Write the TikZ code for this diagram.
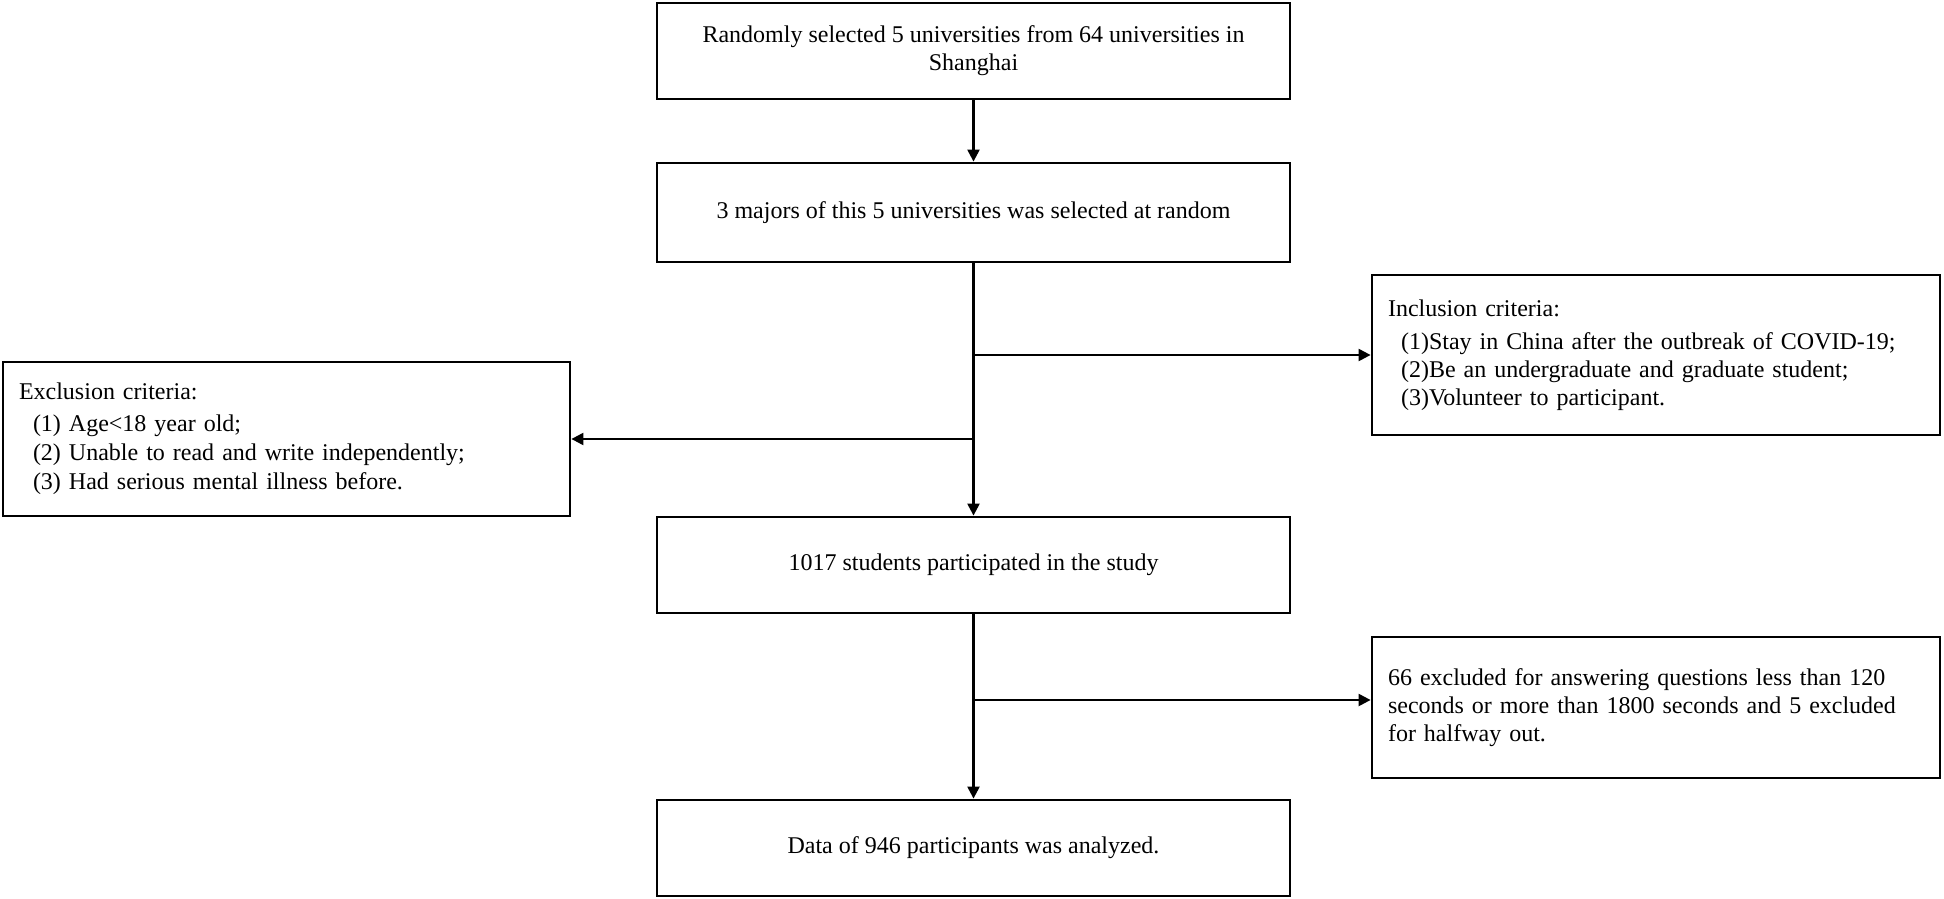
\documentclass[tikz,border=0pt]{standalone}
\usepackage{fontspec}
\setmainfont{Liberation Serif}
\usepackage{tikz}
\usetikzlibrary{positioning,arrows.meta}

\newcommand\flowfont{\fontsize{12pt}{14pt}\selectfont}
\tikzset{
  flowbox/.style={draw,line width=1.4pt,inner sep=8pt,font=\flowfont},
  mainbox/.style={flowbox,minimum width=316.5pt,align=center},
  sidebox/.style={flowbox,text width=268pt,align=left},
  arr/.style={-{Triangle[length=6pt,width=6pt]},line width=1.1pt}
}

\begin{document}
\begin{tikzpicture}[x=0.5pt,y=-0.5pt,on grid]
    \useasboundingbox (0,0) rectangle (1944,899);
    \node[mainbox,minimum height=48pt] (select) at (973.5,51)
      {Randomly selected 5 universities from 64 universities in\\Shanghai};
    \node[mainbox,minimum height=49.5pt] (majors) [below=80.75pt of select]
      {3 majors of this 5 universities was selected at random};
    \node[mainbox,minimum height=48pt] (enrol) [below=176.25pt of majors]
      {1017 students participated in the study};
    \node[mainbox,minimum height=48pt] (analysed) [below=141.5pt of enrol]
      {Data of 946 participants was analyzed.};
    \node[sidebox,minimum height=80pt] (incl) [below right=71.25pt and 341.25pt of majors]
      {Inclusion criteria:\\[2.5pt]
       \hspace*{6.5pt}(1)Stay in China after the outbreak of COVID-19;\\
       \hspace*{6.5pt}(2)Be an undergraduate and graduate student;\\
       \hspace*{6.5pt}(3)Volunteer to participant.};
    \node[sidebox,text width=267.5pt,minimum height=77pt,font=\fontsize{12pt}{14.5pt}\selectfont] (excl) [above left=63pt and 343.5pt of enrol]
      {Exclusion criteria:\\[1.5pt]
       \hspace*{7pt}(1) Age<18 year old;\\
       \hspace*{7pt}(2) Unable to read and write independently;\\
       \hspace*{7pt}(3) Had serious mental illness before.};
    \node[sidebox,minimum height=70.5pt] (dropped) [below right=71.25pt and 341.25pt of enrol]
      {66 excluded for answering questions less than 120\\
       seconds or more than 1800 seconds and 5 excluded\\
       for halfway out.};
    % main flow
    \draw[arr] (select) -- (majors);
    \draw[arr] (majors) -- (enrol);
    \draw[arr] (enrol) -- (analysed);
    % side branches
    \draw[arr] (incl.west -| majors.south) -- (incl.west);
    \draw[arr] (excl.east -| majors.south) -- (excl.east);
    \draw[arr] ([yshift=3.75pt]dropped.west -| enrol.south) -- ([yshift=3.75pt]dropped.west);
\end{tikzpicture}
\end{document}
